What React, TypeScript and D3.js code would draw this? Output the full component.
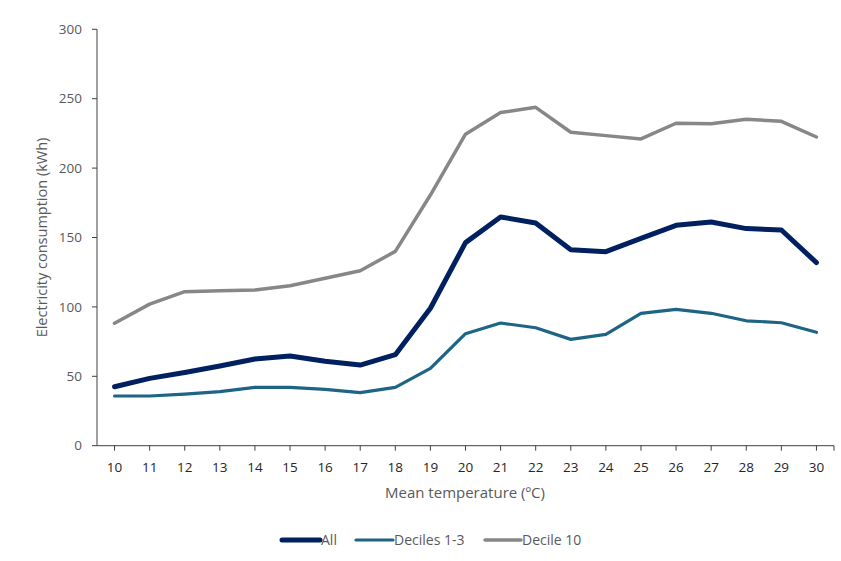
import React from "react";
import * as d3 from "d3";

const temps = ["10","11","12","13","14","15","16","17","18","19","20","21","22","23","24","25","26","27","28","29","30"];
const allValues = [42.5,48.5,52.8,57.4,62.5,64.6,60.8,58.1,65.6,99,146.3,164.8,160.5,141.2,139.8,149.4,158.8,161.2,156.4,155.4,131.9];
const deciles13 = [35.8,35.8,37.2,38.9,42,42,40.6,38.2,42,55.7,80.7,88.4,85,76.6,80.2,95.4,98.2,95.4,90,88.6,81.7];
const decile10 = [88.2,102,111,111.7,112.2,115.3,120.6,126,140,180.6,224.4,240,243.8,225.8,223.4,221,232.3,232,235.2,233.7,222.4];
const yTicks = [0,50,100,150,200,250,300];

const series = [
  { name: "All", values: allValues, color: "#002060", width: 5 },
  { name: "Deciles 1-3", values: deciles13, color: "#1D6485", width: 3.2 },
  { name: "Decile 10", values: decile10, color: "#878787", width: 3.5 },
];

export default function App() {
  const W = 841, H = 561;
  const left = 97, right = 834, top = 29.3, bottom = 445.7;
  const x = d3.scaleBand().domain(temps).range([left, right]);
  const y = d3.scaleLinear().domain([0, 300]).range([bottom, top]);
  const cx = (t: string) => (x(t) as number) + x.bandwidth() / 2;
  const line = d3.line<number>().x((_, i) => cx(temps[i])).y((v) => y(v));
  const font = "'Open Sans', 'Noto Sans', sans-serif";
  const textColor = "#595959";
  const axisColor = "#404040";
  const legendItems = [
    { s: series[0], x1: 282, x2: 320 },
    { s: series[1], x1: 356, x2: 393 },
    { s: series[2], x1: 485, x2: 521 },
  ];
  return (
    <svg width={W} height={H} style={{ position: "absolute", left: 0, top: 0, background: "#fff" }} fontFamily={font}>
      <rect x={0} y={0} width={W} height={H} fill="#fff" />
      {/* y axis */}
      <line x1={left} x2={left} y1={top} y2={bottom} stroke={axisColor} strokeWidth={1} />
      {yTicks.map((t) => (
        <g key={t}>
          <line x1={left - 5} x2={left} y1={y(t)} y2={y(t)} stroke={axisColor} strokeWidth={1} />
          <text x={82} y={y(t)} dy="0.35em" textAnchor="end" fontSize={13.5} fill={textColor}>{t}</text>
        </g>
      ))}
      {/* x axis */}
      <line x1={left} x2={right} y1={bottom} y2={bottom} stroke={axisColor} strokeWidth={1} />
      {temps.map((t) => (
        <g key={t}>
          <line x1={cx(t)} x2={cx(t)} y1={bottom} y2={bottom + 5} stroke={axisColor} strokeWidth={1} />
          <text x={cx(t)} y={467} dy="0.35em" textAnchor="middle" fontSize={13.5} fill="#262626">{t}</text>
        </g>
      ))}
      <line x1={right} x2={right} y1={bottom} y2={bottom + 5} stroke={axisColor} strokeWidth={1} />
      {/* lines */}
      {[series[2], series[1], series[0]].map((s) => (
        <path key={s.name} d={line(s.values) as string} fill="none" stroke={s.color} strokeWidth={s.width} strokeLinejoin="round" strokeLinecap="round" />
      ))}
      {/* axis titles */}
      <text x={465} y={493} dy="0.35em" textAnchor="middle" fontSize={15} fill={textColor}>Mean temperature (ºC)</text>
      <text transform={`translate(42,${(top + bottom) / 2}) rotate(-90)`} dy="0.35em" textAnchor="middle" fontSize={14.5} fill={textColor}>Electricity consumption (kWh)</text>
      {/* legend */}
      {legendItems.map(({ s, x1, x2 }) => (
        <g key={s.name}>
          <line x1={x1} x2={x2} y1={540} y2={540} stroke={s.color} strokeWidth={s.width} strokeLinecap="round" />
          <text x={x2 + 1} y={540} dy="0.35em" fontSize={14} fill={textColor}>{s.name}</text>
        </g>
      ))}
    </svg>
  );
}
